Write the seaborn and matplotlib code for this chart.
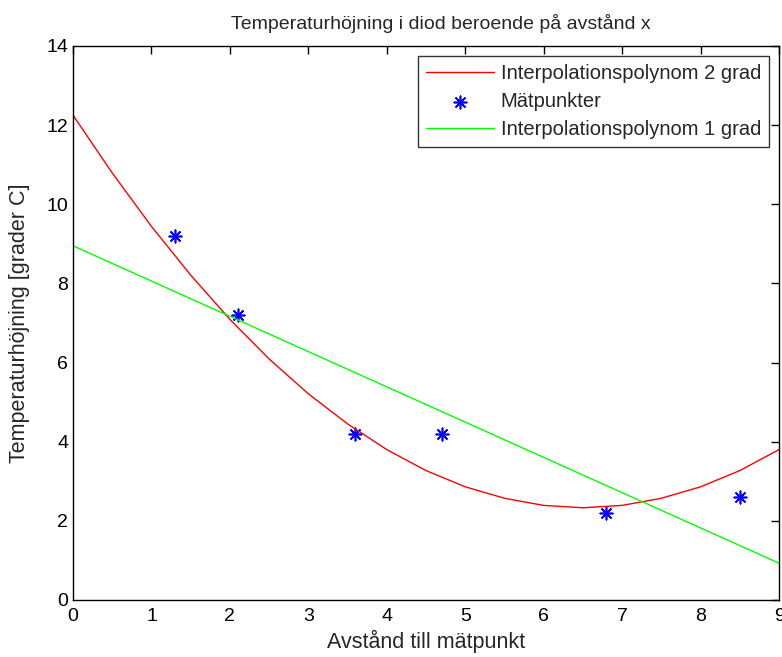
import matplotlib
matplotlib.use("Agg")
import matplotlib.pyplot as plt
import seaborn as sns
import pandas as pd

# measured points
meas_x = [1.3, 2.1, 3.6, 4.7, 6.8, 8.5]
meas_y = [9.2, 7.2, 4.2, 4.2, 2.2, 2.6]

# 2nd degree polynomial curve
poly2_x = [0, 0.5, 1, 1.5, 2, 2.5, 3, 3.5, 4, 4.5, 5, 5.5, 6, 6.5, 7, 7.5, 8, 8.5, 9]
poly2_y = [12.25, 10.79, 9.44, 8.21, 7.09, 6.09, 5.21, 4.45, 3.80, 3.27, 2.86, 2.57,
           2.39, 2.33, 2.39, 2.57, 2.86, 3.27, 3.80]

# 1st degree polynomial line
poly1_x = [0, 9]
poly1_y = [8.95, 0.93]

xticks = list(range(0, 10))
yticks = list(range(0, 15, 2))

sns.set_style("white")
plt.rcParams['font.family'] = ['Liberation Sans', 'DejaVu Sans']

fig = plt.figure(figsize=(7.82, 6.57), dpi=100)
ax = fig.add_axes([0.0934, 0.0868, 0.9028, 0.8432])

d2 = pd.DataFrame({"x": poly2_x, "y": poly2_y})
d1 = pd.DataFrame({"x": poly1_x, "y": poly1_y})
dm = pd.DataFrame({"x": meas_x, "y": meas_y})

sns.lineplot(data=d2, x="x", y="y", ax=ax, color="#ff0000", lw=1.0,
             label="Interpolationspolynom 2 grad", sort=False)
sns.scatterplot(data=dm, x="x", y="y", ax=ax, marker=(8, 2, 0), s=80,
                color="#0000ff", linewidth=1.2, edgecolor="#0000ff",
                label="Mätpunkter")
sns.lineplot(data=d1, x="x", y="y", ax=ax, color="#00ff00", lw=1.0,
             label="Interpolationspolynom 1 grad", sort=False)

ax.set_xlim(0, 9)
ax.set_ylim(0, 14)
ax.set_xticks(xticks)
ax.set_yticks(yticks)
ax.tick_params(direction="in", top=True, right=True, length=6, width=1,
               labelsize=14, colors="black")
ax.tick_params(axis="x", pad=6)
for s in ax.spines.values():
    s.set_color("black")
    s.set_linewidth(1.0)

ax.set_title("Temperaturhöjning i diod beroende på avstånd x", fontsize=14, pad=12, x=0.521)
ax.set_xlabel("Avstånd till mätpunkt", fontsize=15.5, labelpad=3)
ax.set_ylabel("Temperaturhöjning [grader C]", fontsize=15.5, labelpad=12)

leg = ax.legend(loc="upper right", fontsize=14.5, frameon=True, fancybox=False,
                borderaxespad=0.5, handlelength=3.4, labelspacing=0.45,
                borderpad=0.4, handletextpad=0.3)
leg.get_frame().set_edgecolor("black")
leg.get_frame().set_linewidth(1.0)

fig.savefig("out.png", dpi=100)
